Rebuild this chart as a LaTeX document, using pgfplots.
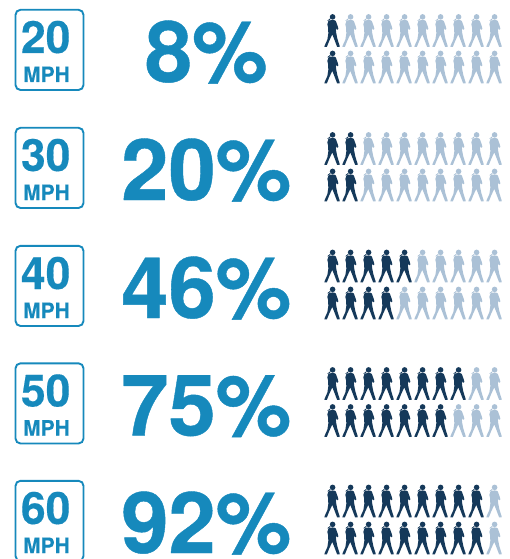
\documentclass[border=0pt]{standalone}
\usepackage{pgfplots}
\pgfplotsset{compat=1.18}
\usepackage{fontspec}
\setmainfont{TeX Gyre Heros}
\newfontfamily\heavy[BoldFont={TeX Gyre Heros Bold},BoldFeatures={FakeBold=0.5}]{TeX Gyre Heros}
\newfontfamily\semiheavy[BoldFont={TeX Gyre Heros Bold},BoldFeatures={FakeBold=0.3}]{TeX Gyre Heros}
\definecolor{speedblue}{HTML}{1689BC}
\definecolor{darkwalker}{HTML}{15395A}
\definecolor{lightwalker}{HTML}{ABC1D6}
\pgfdeclareplotmark{walker}{%
  \pgfpathmoveto{\pgfpoint{2.2pt}{10.4pt}}%
  \pgfpathlineto{\pgfpoint{3.8pt}{9.5pt}}%
  \pgfpathlineto{\pgfpoint{5.8pt}{4pt}}%
  \pgfpathlineto{\pgfpoint{6.4pt}{1.5pt}}%
  \pgfpathlineto{\pgfpoint{5pt}{0.7pt}}%
  \pgfpathlineto{\pgfpoint{3.8pt}{2.5pt}}%
  \pgfpathlineto{\pgfpoint{4.1pt}{-2pt}}%
  \pgfpathlineto{\pgfpoint{5.3pt}{-8pt}}%
  \pgfpathlineto{\pgfpoint{7.5pt}{-15pt}}%
  \pgfpathlineto{\pgfpoint{7.6pt}{-16.3pt}}%
  \pgfpathlineto{\pgfpoint{5.1pt}{-16.3pt}}%
  \pgfpathlineto{\pgfpoint{2.5pt}{-9.5pt}}%
  \pgfpathlineto{\pgfpoint{0.3pt}{-4pt}}%
  \pgfpathlineto{\pgfpoint{-2.6pt}{-10pt}}%
  \pgfpathlineto{\pgfpoint{-5.1pt}{-16.3pt}}%
  \pgfpathlineto{\pgfpoint{-7.6pt}{-16.3pt}}%
  \pgfpathlineto{\pgfpoint{-7.3pt}{-15pt}}%
  \pgfpathlineto{\pgfpoint{-4.6pt}{-9pt}}%
  \pgfpathlineto{\pgfpoint{-3.7pt}{-3pt}}%
  \pgfpathlineto{\pgfpoint{-3.9pt}{3pt}}%
  \pgfpathlineto{\pgfpoint{-4.7pt}{6pt}}%
  \pgfpathlineto{\pgfpoint{-3.6pt}{9.5pt}}%
  \pgfpathlineto{\pgfpoint{-1pt}{10.4pt}}%
  \pgfpathclose
  \pgfpathcircle{\pgfpoint{0.6pt}{13.6pt}}{2.8pt}%
  \pgfpathmoveto{\pgfpoint{-5pt}{9.6pt}}%
  \pgfpathlineto{\pgfpoint{-2pt}{12pt}}%
  \pgfpathlineto{\pgfpoint{-2pt}{10.6pt}}%
  \pgfpathclose
  \pgfusepathqfill
}
\newcommand{\speed}[3]{% y-baseline offset, speed, percent
  \draw[speedblue,line width=1.9pt,rounded corners=5pt] (axis cs:15.5,{#1+9.8}) rectangle (axis cs:83.5,{#1+90});
  \node[anchor=base,inner sep=0,text=speedblue,font=\fontsize{44.5}{44.5}\selectfont\semiheavy\bfseries] at (axis cs:45.7,{#1+53}) {#2};
  \node[anchor=base,inner sep=0,text=speedblue,font=\fontsize{21}{21}\selectfont\semiheavy\bfseries] at (axis cs:46.5,{#1+82}) {MPH};
  \node[anchor=base,inner sep=0,text=speedblue,font=\fontsize{85}{85}\selectfont\heavy\bfseries] at (axis cs:206.3,{#1+82}) {#3};
}
\begin{document}
\begin{tikzpicture}
\path[use as bounding box,clip] (0,0) rectangle (510pt,559pt);
\begin{axis}[
  at={(0,0)},anchor=south west,
  scale only axis,width=510pt,height=559pt,
  xmin=0,xmax=510,ymin=0,ymax=559,y dir=reverse,
  hide axis,clip=false]
\addplot[only marks,mark=walker,mark options={fill=darkwalker,draw=none}] coordinates {
 (332,30.5) (332,67)
 (332,148.5) (350,148.5) (332,185) (350,185)
 (332,266) (350,266) (368,266) (386,266) (404,266)
 (332,303) (350,303) (368,303) (386,303)
 (332,383.5) (350,383.5) (368,383.5) (386,383.5) (404,383.5) (422,383.5) (440,383.5) (458,383.5)
 (332,420.5) (350,420.5) (368,420.5) (386,420.5) (404,420.5) (422,420.5) (440,420.5)
 (332,501) (350,501) (368,501) (386,501) (404,501) (422,501) (440,501) (458,501) (476,501)
 (332,538) (350,538) (368,538) (386,538) (404,538) (422,538) (440,538) (458,538) (476,538)
};
\addplot[only marks,mark=walker,mark options={fill=lightwalker,draw=none}] coordinates {
 (350,30.5) (368,30.5) (386,30.5) (404,30.5) (422,30.5) (440,30.5) (458,30.5) (476,30.5) (494,30.5)
 (350,67) (368,67) (386,67) (404,67) (422,67) (440,67) (458,67) (476,67) (494,67)
 (368,148.5) (386,148.5) (404,148.5) (422,148.5) (440,148.5) (458,148.5) (476,148.5) (494,148.5)
 (368,185) (386,185) (404,185) (422,185) (440,185) (458,185) (476,185) (494,185)
 (422,266) (440,266) (458,266) (476,266) (494,266)
 (404,303) (422,303) (440,303) (458,303) (476,303) (494,303)
 (476,383.5) (494,383.5)
 (458,420.5) (476,420.5) (494,420.5)
 (494,501)
 (494,538)
};
\speed{0}{20}{8\%}
\speed{118}{30}{20\%}
\speed{236}{40}{46\%}
\speed{353.5}{50}{75\%}
\speed{471}{60}{92\%}
\end{axis}
\end{tikzpicture}
\end{document}
